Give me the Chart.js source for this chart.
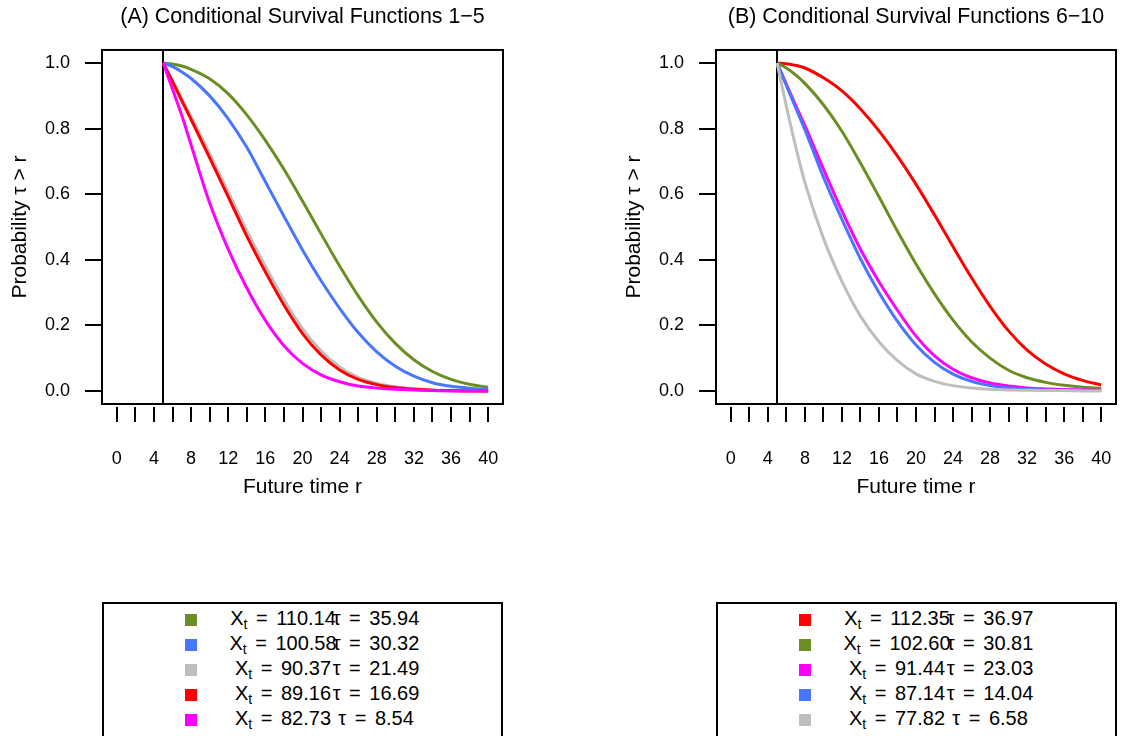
<!DOCTYPE html>
<html><head><meta charset="utf-8">
<script src="https://cdn.jsdelivr.net/npm/chart.js@4.4.1/dist/chart.umd.min.js"></script>
<style>
html,body{margin:0;padding:0;background:#fff;}
body{width:1128px;height:736px;overflow:hidden;position:relative;font-family:"Liberation Sans",Arial,Helvetica,sans-serif;color:#000;}
canvas{position:absolute;top:0;}
#cA{left:0;} #cB{left:614px;}
.legend{position:absolute;top:602px;height:140px;border:2px solid #000;box-sizing:border-box;}
.sq{position:absolute;width:12px;height:12px;}
.lt{position:absolute;font-size:20px;word-spacing:3px;white-space:nowrap;transform:translate(-50%,-50%);line-height:1;}
.lt sub{font-size:14px;vertical-align:baseline;position:relative;top:4px;line-height:0;}
</style></head><body>
<canvas id="cA" width="564" height="520"></canvas>
<canvas id="cB" width="514" height="520"></canvas>
<div class="legend" id="legA" style="left:102px;width:401px"></div>
<div class="legend" id="legB" style="left:716px;width:401px"></div>
<script>
// ---------- data ----------
const rGrid = [5,6,7,8,10,12,14,16,18,20,22,24,26,28,30,32,34,36,38,40];
const currentTime = 5;
const xTickMarks = [0,2,4,6,8,10,12,14,16,18,20,22,24,26,28,30,32,34,36,38,40];
const xTickLabels = [0,4,8,12,16,20,24,28,32,36,40];
const yTickValues = [0,0.2,0.4,0.6,0.8,1.0];

// Panel A (functions 1-5)
const titleA = '(A) Conditional Survival Functions 1\u22125';
const survA1 = [1.000,0.997,0.991,0.981,0.952,0.906,0.842,0.764,0.676,0.579,0.479,0.381,0.290,0.210,0.145,0.095,0.059,0.035,0.020,0.011];
const survA2 = [1.000,0.989,0.973,0.953,0.900,0.830,0.743,0.638,0.533,0.430,0.336,0.252,0.178,0.119,0.075,0.045,0.025,0.014,0.008,0.004];
const survA3 = [1.000,0.947,0.891,0.837,0.724,0.607,0.489,0.380,0.279,0.190,0.122,0.073,0.041,0.023,0.013,0.007,0.003,0.002,0.001,0.000];
const survA4 = [1.000,0.943,0.885,0.828,0.711,0.592,0.472,0.363,0.262,0.175,0.110,0.064,0.035,0.019,0.010,0.005,0.002,0.001,0.000,0.000];
const survA5 = [1.000,0.920,0.840,0.750,0.573,0.432,0.314,0.215,0.138,0.084,0.049,0.028,0.015,0.009,0.005,0.003,0.001,0.000,0.000,0.000];
const colorsA = ['#6B8E23','#4876FF','#BEBEBE','#FF0000','#FF00FF'];
const xtA  = ['110.14','100.58','90.37','89.16','82.73'];
const tauA = ['35.94','30.32','21.49','16.69','8.54'];

// Panel B (functions 6-10)
const titleB = '(B) Conditional Survival Functions 6\u221210';
const survB1 = [1.000,0.998,0.993,0.985,0.955,0.915,0.860,0.793,0.716,0.630,0.537,0.440,0.345,0.258,0.183,0.124,0.082,0.052,0.032,0.018];
const survB2 = [1.000,0.985,0.964,0.938,0.873,0.792,0.695,0.592,0.487,0.387,0.296,0.216,0.150,0.100,0.063,0.040,0.026,0.017,0.011,0.008];
const survB3 = [1.000,0.935,0.871,0.809,0.677,0.549,0.432,0.333,0.246,0.167,0.107,0.066,0.040,0.024,0.015,0.009,0.006,0.004,0.003,0.002];
const survB4 = [1.000,0.932,0.864,0.797,0.652,0.523,0.403,0.300,0.212,0.140,0.087,0.051,0.029,0.016,0.009,0.005,0.003,0.002,0.001,0.001];
const survB5 = [1.000,0.868,0.746,0.636,0.466,0.334,0.228,0.150,0.092,0.052,0.029,0.016,0.009,0.005,0.003,0.002,0.001,0.001,0.000,0.000];
const colorsB = ['#FF0000','#6B8E23','#FF00FF','#4876FF','#BEBEBE'];
const xtB  = ['112.35','102.60','91.44','87.14','77.82'];
const tauB = ['36.97','30.81','23.03','14.04','6.58'];

// ---------- drawing ----------
Chart.defaults.font.family = '"Liberation Sans", Arial, Helvetica, sans-serif';
Chart.defaults.color = '#000';

const framePlugin = {
  id: 'frame',
  beforeDatasetsDraw(chart) {
    const {ctx, chartArea: a, scales: {x}} = chart;
    const vx = Math.round(x.getPixelForValue(currentTime));
    ctx.save();
    ctx.strokeStyle = '#000'; ctx.lineWidth = 2;
    ctx.beginPath(); ctx.moveTo(vx, a.top); ctx.lineTo(vx, a.bottom); ctx.stroke();
    ctx.restore();
  },
  afterDatasetsDraw(chart) {
    const {ctx, chartArea: a, scales: {x, y}} = chart;
    ctx.save();
    ctx.strokeStyle = '#000'; ctx.lineWidth = 2;
    ctx.strokeRect(a.left, a.top, a.right - a.left, a.bottom - a.top);
    ctx.beginPath();
    xTickMarks.forEach(v => {
      const px = Math.round(x.getPixelForValue(v));
      ctx.moveTo(px, a.bottom + 3); ctx.lineTo(px, a.bottom + 18);
    });
    yTickValues.forEach(v => {
      const py = Math.round(y.getPixelForValue(v));
      ctx.moveTo(a.left - 17, py); ctx.lineTo(a.left, py);
    });
    ctx.stroke();
    ctx.restore();
  }
};

function makeChart(id, title, series, colors, padRight) {
  const n = series.length;
  const datasets = series.map((s, i) => ({
    data: rGrid.map((r, k) => ({x: r, y: s[k]})),
    borderColor: colors[i], backgroundColor: colors[i],
    borderWidth: 3, pointRadius: 0, fill: false,
    cubicInterpolationMode: 'monotone', order: n - i
  }));
  return new Chart(document.getElementById(id), {
    type: 'line',
    data: {datasets},
    options: {
      responsive: false, animation: false, devicePixelRatio: 1,
      layout: {padding: {left: 0, right: padRight, top: 0, bottom: 0}},
      plugins: {
        legend: {display: false}, tooltip: {enabled: false},
        title: {display: true, text: title, fullSize: false, color: '#000',
                font: {size: 21.4, weight: 'normal'}, padding: {top: 4.2, bottom: 20.1}}
      },
      scales: {
        x: {
          type: 'linear', min: -1.6, max: 41.6, bounds: 'data',
          grid: {display: false, drawTicks: false, tickLength: 0}, border: {display: false},
          afterBuildTicks: s => { s.ticks = xTickMarks.map(v => ({value: v})); },
          afterFit: s => { s.height = 116; s.paddingLeft = 0; s.paddingRight = 0; },
          ticks: {padding: 44, autoSkip: false, maxRotation: 0, font: {size: 18},
                  callback: v => xTickLabels.includes(v) ? String(v) : ''},
          title: {display: true, text: 'Future time r', font: {size: 21}, padding: {top: 0, bottom: 20.4}}
        },
        y: {
          type: 'linear', min: -0.04, max: 1.04, bounds: 'data',
          grid: {display: false, drawTicks: false, tickLength: 0}, border: {display: false},
          afterBuildTicks: s => { s.ticks = yTickValues.map(v => ({value: v})); },
          afterFit: s => { s.width = 102; s.paddingTop = 0; s.paddingBottom = 0; },
          ticks: {padding: 32, font: {size: 18}, callback: v => Number(v).toFixed(1)},
          title: {display: true, text: 'Probability \u03C4 > r', font: {size: 21}, padding: {top: 7.4, bottom: 0}}
        }
      }
    },
    plugins: [framePlugin]
  });
}

makeChart('cA', titleA, [survA1, survA2, survA3, survA4, survA5], colorsA, 61);
makeChart('cB', titleB, [survB1, survB2, survB3, survB4, survB5], colorsB, 12);

function buildLegend(id, colors, xt, tau) {
  const el = document.getElementById(id);
  colors.forEach((c, i) => {
    const sq = document.createElement('div');
    sq.className = 'sq'; sq.style.background = c;
    sq.style.left = '81px'; sq.style.top = (10 + 25 * i) + 'px';
    el.appendChild(sq);
    const a = document.createElement('div');
    a.className = 'lt'; a.style.left = '179px'; a.style.top = (13.5 + 25 * i) + 'px';
    a.innerHTML = 'X<sub>t</sub> = ' + xt[i];
    el.appendChild(a);
    const b = document.createElement('div');
    b.className = 'lt'; b.style.left = '272px'; b.style.top = (13.5 + 25 * i) + 'px';
    b.textContent = '\u03C4 = ' + tau[i];
    el.appendChild(b);
  });
}
buildLegend('legA', colorsA, xtA, tauA);
buildLegend('legB', colorsB, xtB, tauB);
</script>
</body></html>
